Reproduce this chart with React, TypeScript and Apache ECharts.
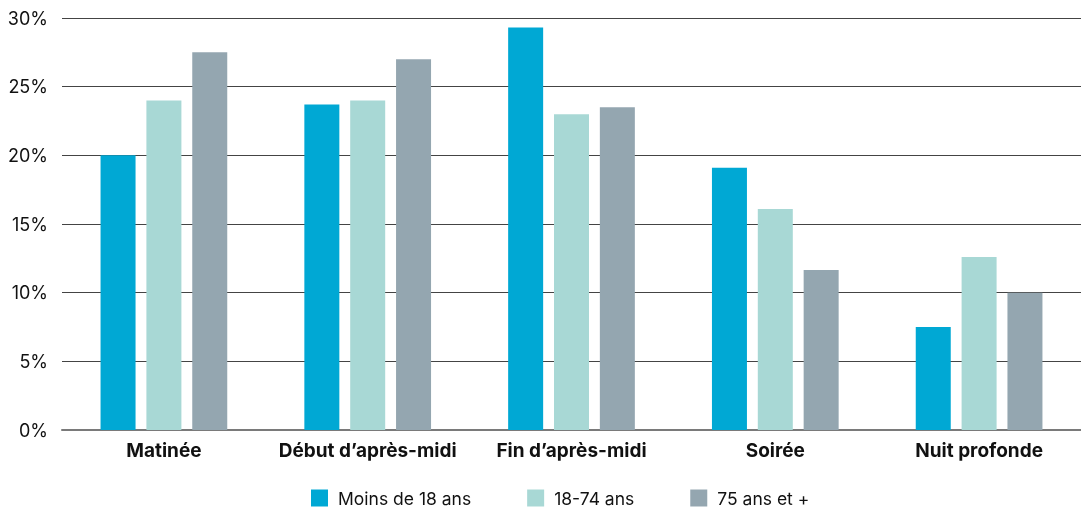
import React, { useEffect, useRef } from "react";
import * as echarts from "echarts";

const categories = ["Matinée", "Début d’après-midi", "Fin d’après-midi", "Soirée", "Nuit profonde"];
const seriesNames = ["Moins de 18 ans", "18-74 ans", "75 ans et +"];
const moins18 = [20.0, 23.7, 29.3, 19.1, 7.5];
const adultes = [24.0, 24.0, 23.0, 16.1, 12.6];
const seniors = [27.5, 27.0, 23.5, 11.65, 10.0];
const colors = ["#00A8D4", "#A8D8D5", "#94A6B0"];

export default function App() {
  const ref = useRef<HTMLDivElement>(null);
  useEffect(() => {
    if (!ref.current) return;
    const chart = echarts.init(ref.current, undefined, { renderer: "svg" });
    const values = [moins18, adultes, seniors];
    chart.setOption({
      animation: false,
      textStyle: { fontFamily: "Inter" },
      grid: { left: 62, right: 0, top: 18, bottom: 81, containLabel: false },
      legend: {
        bottom: -1,
        left: 306,
        itemWidth: 17,
        itemHeight: 17,
        itemGap: 56,
        icon: "rect",
        textStyle: { fontSize: 17.5, color: "#111", fontFamily: "Inter", padding: [0, 0, 0, 5] },
        data: seriesNames,
      },
      xAxis: {
        type: "category",
        data: categories,
        axisLine: { lineStyle: { color: "#7a7a7a", width: 2 } },
        axisTick: { show: false },
        axisLabel: { interval: 0, fontSize: 19, fontWeight: "bold", color: "#111", margin: 11, fontFamily: "Inter" },
      },
      yAxis: {
        type: "value",
        min: 0,
        max: 30,
        interval: 5,
        axisLabel: { formatter: "{value}%", fontSize: 18, color: "#111", margin: 14, fontFamily: "Inter" },
        splitLine: { lineStyle: { color: "#444", width: 1 } },
        axisLine: { show: false },
        axisTick: { show: false },
      },
      series: seriesNames.map((name, i) => ({
        name,
        type: "bar",
        data: values[i],
        barWidth: 35,
        barGap: "31%",
        itemStyle: { color: colors[i] },
      })),
    });
    return () => chart.dispose();
  }, []);
  return <div ref={ref} style={{ position: "fixed", left: 0, top: 0, width: 1081, height: 511 }} />;
}
